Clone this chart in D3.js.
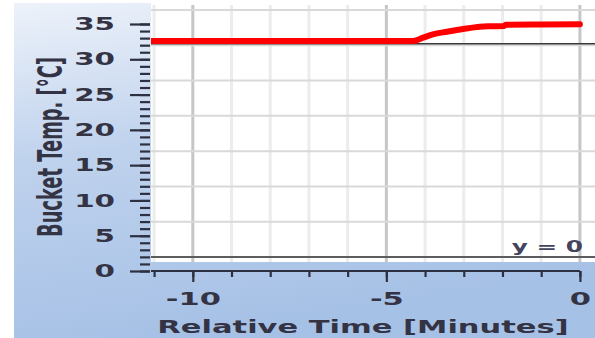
<!DOCTYPE html>
<html>
<head>
<meta charset="utf-8">
<script src="https://cdn.jsdelivr.net/npm/d3@7"></script>
<style>
  body { margin: 0; background: #fff; }
  text { font-family: 'DejaVu Sans', Verdana, sans-serif; }
</style>
</head>
<body>
<div id="app"></div>
<script>
'use strict'
// bucket temperature trace, minutes relative to now
const times = [-11.1, -4.5, -4.31, -4.05, -3.8, -3.43, -3.02, -2.58, -2.3, -1.96, -1.92, -1.0, 0]
const temps = [32.6, 32.6, 32.6, 33.06, 33.54, 33.91, 34.29, 34.62, 34.68, 34.72, 34.9, 34.93, 34.95]

const yTicks = [0, 5, 10, 15, 20, 25, 30, 35]
const yMinor = d3.range(0, 36, 1)
const xTicks = [-10, -5, 0]
const xMinor = d3.range(-11, 1, 1)
const gridValues = [0, 5, 10, 15, 20, 25, 30, 35]
const limitTemp = 32.2
const zeroLabel = 'y = 0'

const W = 595
const H = 338
const SX = 1.65 // the screenshot is stretched sideways, so every text is too

const svg = d3.select('#app').append('svg')
  .attr('width', W)
  .attr('height', H)

const defs = svg.append('defs')
const grad = defs.append('linearGradient').attr('id', 'panel')
  .attr('x1', 0).attr('y1', 0).attr('x2', 0.25).attr('y2', 1)
grad.append('stop').attr('offset', 0).attr('stop-color', '#edf2fa')
grad.append('stop').attr('offset', 0.45).attr('stop-color', '#bfd2ed')
grad.append('stop').attr('offset', 1).attr('stop-color', '#a6c1e6')

defs.append('clipPath').attr('id', 'plotClip')
  .append('rect').attr('x', 151).attr('y', 3).attr('width', 444).attr('height', 259)

svg.append('rect')
  .attr('x', 14).attr('y', 3)
  .attr('width', W - 14).attr('height', H - 3)
  .attr('fill', 'url(#panel)')

svg.append('rect')
  .attr('x', 151).attr('y', 0)
  .attr('width', 444).attr('height', 262)
  .attr('fill', '#fff')

/*
 * Scales. The plot panel is drawn a little higher than the axis,
 * so the grid gets its own copy of the y scale.
 */
const xScale = d3.scaleLinear().domain([-11.08, 0.39]).range([151, 595])
const yScale = d3.scaleLinear().domain([0, 35]).range([271, 24])
const gridScale = d3.scaleLinear().domain([0, 35]).range([257, 10])

const plot = svg.append('g').attr('clip-path', 'url(#plotClip)')

// vertical grid
plot.selectAll('line.vgrid')
  .data(xMinor)
  .enter().append('line')
  .attr('x1', d => xScale(d)).attr('x2', d => xScale(d))
  .attr('y1', 5).attr('y2', 262)
  .style('stroke', d => xTicks.includes(d) ? '#c6c6c6' : '#ececec')
  .style('stroke-width', 3)

// horizontal grid
plot.selectAll('line.hgrid')
  .data(gridValues)
  .enter().append('line')
  .attr('x1', 151).attr('x2', W)
  .attr('y1', d => gridScale(d)).attr('y2', d => gridScale(d))
  .style('stroke', '#d9d9d9')
  .style('stroke-width', 2)

// reference lines
plot.append('line')
  .attr('x1', 151).attr('x2', W)
  .attr('y1', gridScale(0)).attr('y2', gridScale(0))
  .style('stroke', '#333').style('stroke-width', 1.6)

plot.append('line')
  .attr('x1', 151).attr('x2', W)
  .attr('y1', yScale(limitTemp)).attr('y2', yScale(limitTemp))
  .style('stroke', '#3a3a3a').style('stroke-width', 1.6)

svg.append('text')
  .attr('transform', `translate(583, ${gridScale(0) - 5}) scale(${SX},1)`)
  .attr('text-anchor', 'end')
  .style('font-size', '15px')
  .style('font-weight', 'bold')
  .style('fill', '#44445e')
  .text(zeroLabel)

// the trace
const line = d3.line()
  .x((d, i) => xScale(times[i]))
  .y(d => yScale(d))
  .curve(d3.curveMonotoneX)

plot.append('path')
  .datum(temps)
  .attr('d', line)
  .style('fill', 'none')
  .style('stroke', '#ff0000')
  .style('stroke-width', 6)
  .style('stroke-linecap', 'round')
  .style('stroke-linejoin', 'round')

/*
 * Axes
 */
const tickColor = '#2c3040'
const labelColor = '#333344'

const yMinorAxis = svg.append('g')
  .attr('transform', 'translate(150, 0)')
  .call(d3.axisLeft(yScale).tickValues(yMinor).tickSize(10).tickFormat(''))
const yAxis = svg.append('g')
  .attr('transform', 'translate(150, 0)')
  .call(d3.axisLeft(yScale).tickValues(yTicks).tickSize(20).tickFormat(d => String(d)))

const xMinorAxis = svg.append('g')
  .attr('transform', `translate(0, ${yScale(0)})`)
  .call(d3.axisBottom(xScale).tickValues(xMinor).tickSize(6).tickFormat(''))
const xAxis = svg.append('g')
  .attr('transform', `translate(0, ${yScale(0)})`)
  .call(d3.axisBottom(xScale).tickValues(xTicks).tickSize(11).tickFormat(d => String(d)))

svg.selectAll('.domain').remove()
svg.selectAll('.tick line').style('stroke', tickColor).style('stroke-width', 2.2)

svg.append('line')
  .attr('x1', xScale(-11.08)).attr('x2', xScale(0))
  .attr('y1', yScale(0)).attr('y2', yScale(0))
  .style('stroke', tickColor).style('stroke-width', 2.2)

yAxis.selectAll('text')
  .attr('x', -35 / SX)
  .attr('transform', `scale(${SX},1)`)
  .style('font-size', '17.8px')
  .style('font-weight', 'bold')
  .style('fill', labelColor)

xAxis.selectAll('text')
  .attr('y', 21)
  .attr('transform', `scale(${SX},1)`)
  .style('font-size', '18.5px')
  .style('font-weight', 'bold')
  .style('fill', labelColor)

// titles
svg.append('text')
  .attr('transform', `translate(363, 333) scale(${SX},1)`)
  .attr('text-anchor', 'middle')
  .style('font-size', '18.5px')
  .style('font-weight', 'bold')
  .style('fill', labelColor)
  .text('Relative Time [Minutes]')

svg.append('text')
  .attr('transform', `translate(62, 147) scale(${SX},1) rotate(-90)`)
  .attr('text-anchor', 'middle')
  .attr('textLength', 180)
  .attr('lengthAdjust', 'spacingAndGlyphs')
  .style('font-size', '20px')
  .style('font-weight', 'bold')
  .style('fill', labelColor)
  .text('Bucket Temp. [°C]')
</script>
</body>
</html>
